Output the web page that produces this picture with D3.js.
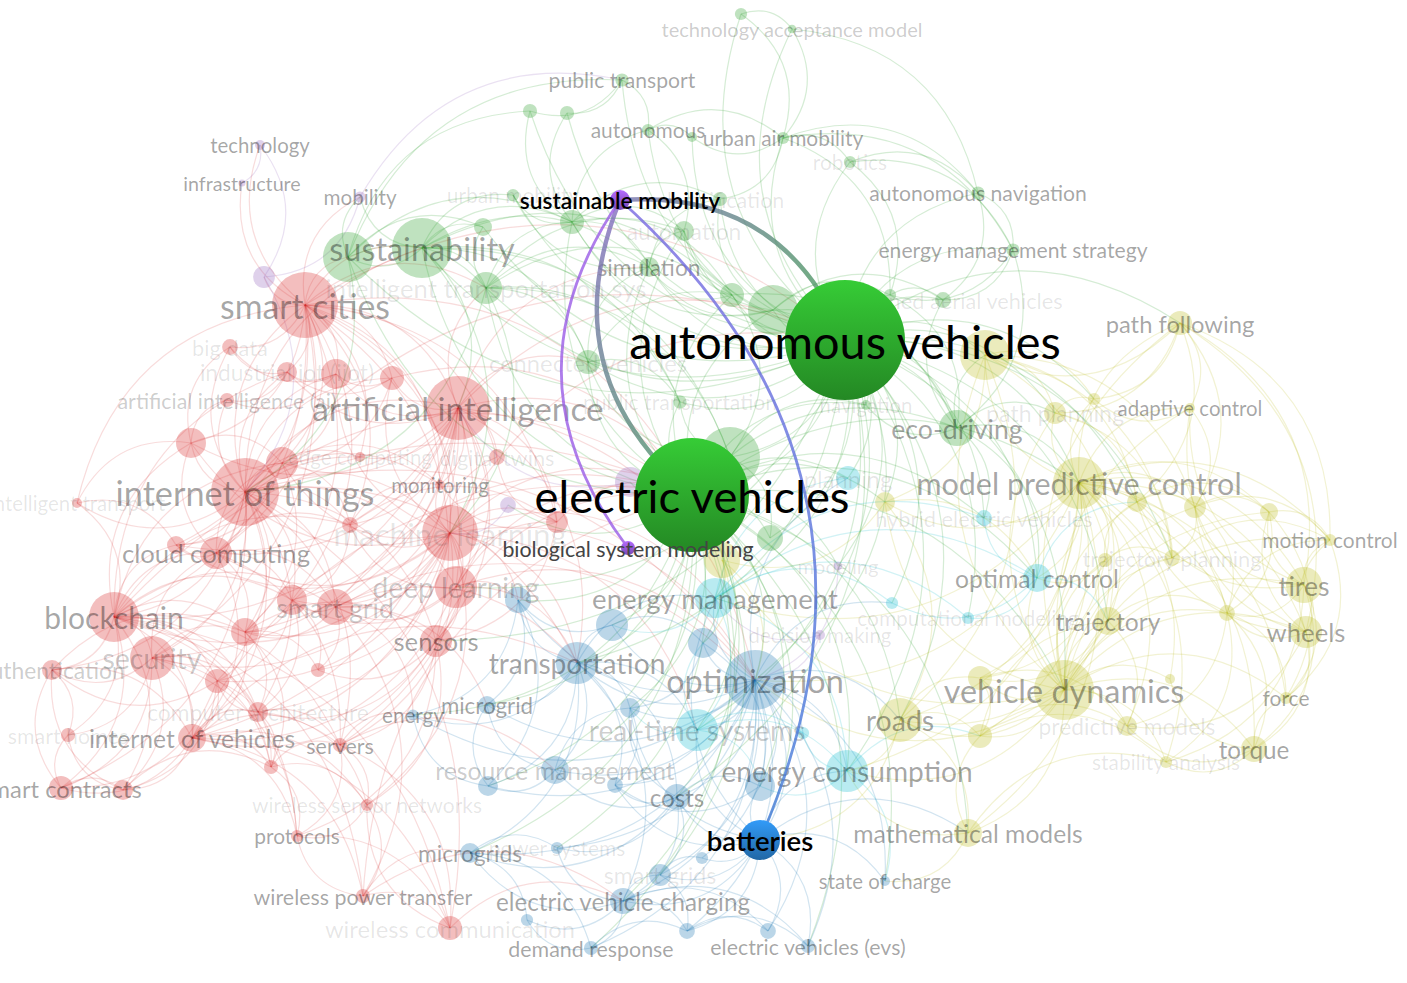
<!DOCTYPE html>
<html>
<head>
<meta charset="utf-8">
<script src="https://cdn.jsdelivr.net/npm/d3@7"></script>
<style>
  html, body { margin: 0; background: #fff; }
  svg { display: block; }
</style>
</head>
<body>
<svg id="map" width="1407" height="983"></svg>
<script>
// ---- Keyword co-occurrence map: items per cluster -------------------------
// [key, label, layout x, layout y, occurrences]
const nodesRed = [
  ["sc", "smart cities", -3.95, 1.85, 174],
  ["iot", "internet of things", -4.55, -0.02, 185],
  ["ai", "artificial intelligence", -2.42, 0.82, 164],
  ["ml", "machine learning", -2.50, -0.43, 125],
  ["bc", "blockchain", -5.86, -1.27, 100],
  ["sec", "security", -5.48, -1.68, 77],
  ["cc", "cloud computing", -4.84, -0.63, 41],
  ["dl", "deep learning", -2.44, -0.97, 71],
  ["sg", "smart grid", -3.65, -1.17, 52],
  ["r1", "", -4.08, -1.10, 36],
  ["sen", "sensors", -2.64, -1.51, 41],
  ["aiai", "artificial intelligence (ai)", -4.73, 0.90, 8],
  ["iiot", "industrial iot (iiot)", -4.13, 1.18, 16],
  ["r2", "", -3.64, 1.16, 36],
  ["bd", "big data", -4.70, 1.43, 10],
  ["r3", "", -3.08, 1.12, 23],
  ["r4", "", -5.09, 0.47, 36],
  ["r5", "", -4.18, 0.27, 41],
  ["ec", "edge computing", -3.40, 0.33, 4],
  ["dt", "digital twins", -2.03, 0.33, 10],
  ["mon", "monitoring", -2.60, 0.05, 4],
  ["r6", "", -3.50, -0.35, 10],
  ["r7", "", -5.24, -0.55, 13],
  ["r8", "", -1.43, -0.32, 19],
  ["r9", "", -4.55, -1.42, 31],
  ["r10", "", -4.83, -1.91, 23],
  ["r11", "", -3.82, -1.80, 8],
  ["ca", "computer architecture", -4.42, -2.22, 16],
  ["auth", "authentication", -6.48, -1.80, 16],
  ["sh", "smart homes", -6.32, -2.45, 8],
  ["scon", "smart contracts", -6.39, -2.98, 23],
  ["r12", "", -5.77, -3.00, 16],
  ["iov", "internet of vehicles", -5.08, -2.48, 31],
  ["r13", "", -4.29, -2.77, 8],
  ["serv", "servers", -3.60, -2.55, 8],
  ["wsn", "wireless sensor networks", -3.33, -3.15, 6],
  ["prot", "protocols", -4.03, -3.46, 6],
  ["wpt", "wireless power transfer", -3.37, -4.06, 8],
  ["wc", "wireless communication", -2.50, -4.38, 23],
  ["itr", "intelligent transport", -6.23, -0.13, 4]
];

const nodesGreen = [
  ["av", "autonomous vehicles", 1.45, 1.50, 576],
  ["ev", "electric vehicles", -0.08, -0.05, 520],
  ["sus", "sustainability", -2.78, 2.42, 144],
  ["g1", "", -3.52, 2.33, 100],
  ["its", "intelligent transportation sys", -2.14, 2.02, 41],
  ["g2", "", -2.17, 2.63, 13],
  ["g3", "", -1.28, 2.68, 23],
  ["g4", "", -1.70, 3.79, 8],
  ["g5", "", -1.33, 3.77, 8],
  ["pt", "public transport", -0.78, 4.10, 7],
  ["g6", "", 0.41, 4.76, 6],
  ["tam", "technology acceptance model", 0.92, 4.61, 3],
  ["auto", "autonomous", -0.52, 3.60, 6],
  ["g7", "", -0.08, 3.53, 4],
  ["uam", "urban air mobility", 0.83, 3.52, 6],
  ["rob", "robotics", 1.50, 3.28, 6],
  ["an", "autonomous navigation", 2.78, 2.97, 7],
  ["ems", "energy management strategy", 3.13, 2.40, 7],
  ["uav", "unmanned aerial vehicles", 2.43, 1.90, 10],
  ["g8", "", 1.90, 1.95, 6],
  ["autom", "automation", -0.16, 2.59, 16],
  ["sim", "simulation", -0.51, 2.23, 16],
  ["um", "urban mobility", -1.87, 2.95, 6],
  ["elec", "electrification", 0.20, 2.91, 8],
  ["g9", "", 0.32, 1.95, 23],
  ["g10", "", 0.73, 1.80, 100],
  ["nav", "navigation", 1.66, 0.85, 4],
  ["ptn", "public transportation", -0.20, 0.88, 7],
  ["cv", "connected vehicles", -1.12, 1.28, 23],
  ["eco", "eco-driving", 2.57, 0.62, 52],
  ["g11", "", 0.30, 0.33, 144],
  ["g12", "", 0.70, -0.48, 27]
];

const nodesBlue = [
  ["opt", "optimization", 0.55, -1.90, 144],
  ["trans", "transportation", -1.23, -1.73, 71],
  ["b1", "", -0.88, -1.35, 41],
  ["b2", "", 0.03, -1.53, 36],
  ["b3", "", -1.82, -1.10, 27],
  ["mg", "microgrid", -2.13, -2.15, 13],
  ["en", "energy", -2.87, -2.25, 5],
  ["rm", "resource management", -1.45, -2.80, 31],
  ["costs", "costs", -0.23, -3.07, 27],
  ["b4", "", 0.60, -2.96, 36],
  ["bat", "batteries", 0.60, -3.50, 64],
  ["b5", "", -0.70, -2.18, 16],
  ["b6", "", -2.12, -2.96, 16],
  ["b7", "", -0.85, -2.95, 10],
  ["mgs", "microgrids", -2.30, -3.63, 16],
  ["ps", "power systems", -1.43, -3.58, 6],
  ["sgs", "smart grids", -0.40, -3.85, 19],
  ["b8", "", 0.02, -3.68, 6],
  ["evc", "electric vehicle charging", -0.77, -4.11, 27],
  ["b9", "", -1.73, -4.30, 6],
  ["dr", "demand response", -1.09, -4.58, 8],
  ["b10", "", -0.13, -4.41, 10],
  ["b11", "", 0.68, -4.41, 10],
  ["evs", "electric vehicles (evs)", 1.08, -4.56, 8],
  ["soc", "state of charge", 1.85, -3.91, 4]
];

const nodesYellow = [
  ["mpc", "model predictive control", 3.79, 0.07, 108],
  ["vd", "vehicle dynamics", 3.64, -2.00, 144],
  ["pf", "path following", 4.80, 1.67, 23],
  ["y1", "", 2.85, 1.35, 100],
  ["ac", "adaptive control", 4.90, 0.82, 4],
  ["pp", "path planning", 3.55, 0.77, 19],
  ["y2", "", 3.94, 0.91, 6],
  ["mc", "motion control", 6.30, -0.50, 6],
  ["tp", "trajectory planning", 4.72, -0.68, 10],
  ["y3", "", 4.05, -0.70, 8],
  ["tir", "tires", 6.04, -0.95, 52],
  ["wh", "wheels", 6.06, -1.42, 41],
  ["traj", "trajectory", 4.08, -1.31, 31],
  ["y4", "", 5.27, -1.23, 10],
  ["y5", "", 4.37, -0.12, 16],
  ["y6", "", 4.95, -0.17, 19],
  ["y7", "", 5.69, -0.22, 13],
  ["y8", "", 1.85, -0.12, 16],
  ["y9", "", 0.22, -0.70, 52],
  ["roads", "roads", 2.00, -2.30, 77],
  ["y10", "", 2.80, -2.46, 23],
  ["y11", "", 2.80, -1.88, 23],
  ["pm", "predictive models", 4.27, -2.36, 16],
  ["y12", "", 4.70, -1.89, 4],
  ["sa", "stability analysis", 4.66, -2.72, 6],
  ["force", "force", 5.86, -2.08, 6],
  ["torq", "torque", 5.54, -2.59, 27],
  ["mm", "mathematical models", 2.68, -3.43, 31]
];

const nodesPurple = [
  ["sm", "sustainable mobility", -0.80, 2.90, 16],
  ["tech", "technology", -4.40, 3.45, 4],
  ["infra", "infrastructure", -4.58, 3.07, 2],
  ["mob", "mobility", -3.40, 2.93, 5],
  ["p1", "", -4.36, 2.13, 19],
  ["bsm", "biological system modeling", -0.72, -0.58, 8],
  ["p2", "", -1.92, -0.15, 10],
  ["p3", "", -0.70, 0.08, 36],
  ["modl", "modeling", 1.38, -0.76, 3],
  ["dm", "decision making", 1.20, -1.45, 4]
];

const nodesCyan = [
  ["em", "energy management", 0.15, -1.08, 64],
  ["rts", "real-time systems", -0.03, -2.40, 71],
  ["ecn", "energy consumption", 1.47, -2.81, 71],
  ["plan", "planning", 1.48, 0.12, 23],
  ["hev", "hybrid electric vehicles", 2.84, -0.28, 10],
  ["oc", "optimal control", 3.37, -0.88, 31],
  ["c1", "", 1.92, -1.13, 6],
  ["cm", "computational modeling", 2.68, -1.28, 6],
  ["c2", "", 1.03, -2.43, 6]
];

// ---- Co-occurrence links: [item, neighbours] ------------------------------
const linksRed = [
  ["iot", "sc ai ml bc sec cc dl sg r1 sen aiai iiot r2 bd r3 r4 r5 ec mon r6 r7 r9 r10 ca auth scon iov serv itr wc ev av sus opt trans"],
  ["sc", "ai ml bc sec cc iiot r2 bd r3 r4 r5 tech infra mob p1 sus g1 its ev av dl sen dt r8 r1 r6 r7 r9 mon ec"],
  ["ai", "ml dl bc sec cc r2 r3 iiot r5 ec dt mon r6 r8 sen ev av its cv sim opt trans serv iov r4 r7 r9 sg r1"],
  ["ml", "dl bc sec cc sg r1 sen r6 r8 r9 mon dt ev av opt em trans b3 rts iov ca r4 r5 r7 r2 r3 r10 r11 wsn serv"],
  ["bc", "sec cc auth scon r12 sh iov r9 r10 r7 sg r1 r4 ca wc wpt prot ev r5 r6 r13 iiot serv"],
  ["sec", "auth scon r12 sh iov cc r9 r10 ca r13 prot"],
  ["cc", "r7 r4 r5 r6 r9 sg r1 iov serv ec"],
  ["dl", "sen r6 r8 sg r1 b3 trans opt ev iov"],
  ["sg", "r1 r9 r11 en mg opt trans ev wpt"],
  ["r1", "r9 r10 r11 ca"],
  ["sen", "r11 ca serv wsn prot iov ev"],
  ["iov", "scon r12 r13 serv ca prot wsn wpt wc ev trans"],
  ["ca", "serv r13 r10 wsn"],
  ["serv", "wsn prot en rm wc"],
  ["wpt", "wc prot mgs evc ev"],
  ["wc", "wsn evc"],
  ["scon", "r12 auth sh"],
  ["itr", "r4 r7 bc sc"],
  ["r3", "r2 iiot r5 ev"],
  ["r4", "r5 aiai bd"],
  ["r9", "r10 r11 r13 iov ca sen"],
  ["r10", "r13 auth scon iov r12"],
  ["r5", "r6 r7 r9 mon"],
  ["r2", "iiot bd r5 aiai"],
  ["r6", "r8 r1 mon"],
  ["r8", "dt mon ev sen"],
  ["r13", "serv prot wsn"],
  ["iiot", "bd aiai"],
  ["wsn", "prot wpt"],
  ["prot", "wc"],
  ["r12", "iov r13 auth sh"],
  ["auth", "sh iov r9"]
];

const linksGreen = [
  ["av", "ev sus g1 its g2 g3 g4 g5 pt g6 tam auto g7 uam rob an ems uav g8 autom sim um elec g9 g10 nav ptn cv eco g11 g12 mpc vd pf y1 pp traj tp roads opt oc em plan hev rts ecn trans costs ai ml sen iot dl y2 y5 y8 c1 cm dm modl"],
  ["ev", "sus g1 its g3 autom sim g9 g10 nav ptn cv eco g11 g12 opt trans b1 b2 b3 mg en rm costs b4 bat b5 b6 mgs ps sgs evc dr evs soc em rts ecn plan hev oc mpc vd roads y8 y9 mm p3 p2 modl"],
  ["sus", "g1 its g2 g3 mob ptn cv g9 sim um g11 sc iot ai ml"],
  ["g1", "its g2 g3 pt g4 mob sc iot"],
  ["its", "g2 g3 g9 cv ptn g11 sim autom ai iot ml"],
  ["g3", "autom sim um g4 g5 auto elec g9"],
  ["pt", "g4 g5 auto"],
  ["g6", "tam uam"],
  ["tam", "uam an"],
  ["auto", "g7 uam autom"],
  ["uam", "rob g7 elec g8 an ems"],
  ["rob", "an ems g8"],
  ["an", "ems uav"],
  ["ems", "uav g8 eco"],
  ["g10", "g9 sim autom nav eco g8 g3 elec uav"],
  ["g9", "autom sim eco g11"],
  ["sim", "autom elec um"],
  ["g8", "uav eco"],
  ["cv", "g9 ptn sim"],
  ["eco", "nav g8 uav mpc pp y1 oc hev"],
  ["g11", "g12 ptn cv nav"]
];

const linksYellow = [
  ["mpc", "vd pf y1 ac pp y2 mc tp y3 tir wh traj y4 y5 y6 y7 y8 roads y10 y11 pm y12 sa force torq mm oc hev ecn em opt"],
  ["vd", "pf y1 ac pp mc tp y3 tir wh traj y4 y5 y6 y7 roads y10 y11 pm y12 sa force torq mm oc ecn opt y9 y8"],
  ["pf", "y1 ac y2 y5 y6 tir wh mc pp"],
  ["y1", "pp y2 y8 traj tp roads y5 y6"],
  ["tir", "wh force torq mc y7 y4 y6 sa pf ac y5"],
  ["wh", "force torq y4 y7 mc pm ac y5 y6"],
  ["traj", "tp y3 y4 pm roads y11"],
  ["roads", "y10 y11 mm ecn bat"],
  ["torq", "force sa pm y12"],
  ["mm", "y10 soc ecn sa"],
  ["y5", "y6 y7 tp"],
  ["ac", "y2 y6"],
  ["y6", "y7 y4 mc tp"],
  ["y7", "mc y4 force"],
  ["pp", "y2 y5 tp"],
  ["y11", "y10 pm"],
  ["tp", "y4 mc"],
  ["y8", "y9 roads oc"],
  ["y9", "opt em b2"],
  ["y10", "pm traj sa"],
  ["y4", "force torq sa pm mc"],
  ["y3", "tp y5 y11 oc"],
  ["mc", "force"]
];

const linksBlue = [
  ["opt", "trans b1 b2 b3 mg en rm costs b4 bat b5 b6 b7 mgs ps sgs b8 evc dr b10 b11 evs soc em rts ecn plan c1 c2 roads"],
  ["trans", "b1 b3 mg en rm costs b5 b6 b7 mgs evc em rts"],
  ["bat", "costs b4 b5 b7 b8 evc b10 b11 evs soc ecn rts em mm sgs"],
  ["costs", "b4 b5 b7 rm evc mgs ps sgs"],
  ["evc", "dr b9 b10 b11 evs mgs sgs ps"],
  ["mgs", "ps b9 dr"],
  ["b1", "b2 b3"],
  ["rm", "b6 b5 mg"],
  ["b2", "b4 b5"],
  ["b3", "mg en b6"],
  ["b5", "b7"],
  ["b4", "b7"],
  ["b6", "en mg"],
  ["dr", "b9 b10"],
  ["b10", "b11 evs"],
  ["sgs", "b8 b10"]
];

const linksCyan = [
  ["em", "b1 b2 rts ecn plan c1 cm hev oc"],
  ["rts", "b2 b4 b5 ecn c2"],
  ["ecn", "b4 c2 soc y10"],
  ["oc", "hev cm c1 y5 traj"]
];

const linksPurple = [
  ["tech", "infra sc p1"],
  ["mob", "p1 pt"],
  ["p1", "sc iot"],
  ["modl", "opt"],
  ["dm", "opt em"],
  ["p2", "ml"],
  ["p3", "ai"]
];

// Selected item and its links: [from, to, strength]
const focusItem = "sm";
const focusLinks = [["sm", "av", 3], ["ev", "sm", 3], ["bsm", "sm", 2], ["sm", "bat", 2]];

// Label visibility groups for the non-selected items
const dimLabels = ["sec", "dl", "sg", "rts", "aiai", "auth", "rm", "tam"];
const faintLabels = ["its", "ml", "cv", "ptn", "nav", "autom", "um", "elec", "rob", "uav", "plan", "hev",
  "cm", "modl", "dm", "pp", "tp", "pm", "sa", "iiot", "bd", "ec", "dt", "ca", "sh", "itr", "wsn", "wc", "ps", "sgs"];

// ---- Drawing ----------------------------------------------------------------
const W = 1407, H = 983;
const clusterColors = ["#d62728", "#2ca02c", "#1f77b4", "#bcbd22", "#9467bd", "#17becf"];
const focusColors = { 1: "#2eae2e", 2: "#2b84d4", 4: "#9a5ce6" };
const FONT = "Lato, 'Open Sans', 'Noto Sans', sans-serif";

const svg = d3.select("#map");
const x = d3.scaleLinear().domain([-7, 7.07]).range([0, W]);
const y = d3.scaleLinear().domain([4.9, -4.93]).range([0, H]);
const radius = d3.scaleSqrt().domain([0, 576]).range([0, 60]);
const fontSize = d3.scaleLinear().domain([0, 60]).range([18, 46.8]);
const linkWidth = d3.scaleLinear().domain([1, 3]).range([1.2, 4.4]);

const nodes = [];
[nodesRed, nodesGreen, nodesBlue, nodesYellow, nodesPurple, nodesCyan].forEach((tbl, ci) =>
  tbl.forEach(([key, label, lx, ly, occ]) =>
    nodes.push({ key, label, cluster: ci, px: x(lx), py: y(ly), r: radius(occ), occ })));
const byKey = new Map(nodes.map(n => [n.key, n]));
const get = k => { const n = byKey.get(k); if (!n) throw new Error("unknown item " + k); return n; };

const focusSet = new Set([focusItem]);
focusLinks.forEach(([a, b]) => { focusSet.add(a); focusSet.add(b); });

const seen = new Set(focusLinks.map(([a, b]) => [a, b].sort().join("|")));
const links = [];
[linksRed, linksGreen, linksYellow, linksBlue, linksCyan, linksPurple].forEach(tbl =>
  tbl.forEach(([s, list]) => list.split(" ").forEach(t => {
    const k = [s, t].sort().join("|");
    if (seen.has(k)) return;
    seen.add(k);
    links.push({ a: get(s), b: get(t), w: 1 });
  })));

function arcPath(a, b) {
  const dx = b.px - a.px, dy = b.py - a.py;
  const p = d3.path();
  p.moveTo(a.px, a.py);
  p.quadraticCurveTo((a.px + b.px) / 2 + dy * 0.36, (a.py + b.py) / 2 - dx * 0.36, b.px, b.py);
  return p.toString();
}

const defs = svg.append("defs");

// background links
svg.append("g").attr("fill", "none")
  .selectAll("path").data(links).join("path")
  .attr("d", d => arcPath(d.a, d.b))
  .attr("stroke", d => clusterColors[d.a.cluster])
  .attr("stroke-opacity", d => d.a.cluster === 0 ? 0.16 : 0.2)
  .attr("stroke-width", d => linkWidth(d.w));

// background items, large first
const bgNodes = nodes.filter(n => !focusSet.has(n.key)).sort((a, b) => b.r - a.r);
svg.append("g").selectAll("circle").data(bgNodes).join("circle")
  .attr("cx", d => d.px).attr("cy", d => d.py).attr("r", d => d.r)
  .attr("fill", d => clusterColors[d.cluster]).attr("fill-opacity", 0.3);

// background labels
const labelAlpha = k => faintLabels.includes(k) ? 0.1 : dimLabels.includes(k) ? 0.21 : 0.36;
svg.append("g").attr("font-family", FONT).attr("text-anchor", "middle")
  .selectAll("text").data(bgNodes.filter(n => n.label)).join("text")
  .attr("x", d => d.px).attr("y", d => d.py)
  .attr("dy", "0.4em")
  .attr("font-size", d => fontSize(d.r))
  .attr("fill", "#000").attr("fill-opacity", d => labelAlpha(d.key))
  .text(d => d.label);

// selected links, coloured from one end to the other
const fLinks = focusLinks.map(([a, b, w], i) => ({ a: get(a), b: get(b), w, id: "flink" + i }));
fLinks.forEach(d => {
  const ca = focusColors[d.a.cluster] || clusterColors[d.a.cluster];
  const cb = focusColors[d.b.cluster] || clusterColors[d.b.cluster];
  const mix = d3.interpolateRgb(ca, cb);
  const g = defs.append("linearGradient").attr("id", d.id)
    .attr("gradientUnits", "userSpaceOnUse")
    .attr("x1", d.a.px).attr("y1", d.a.py).attr("x2", d.b.px).attr("y2", d.b.py);
  g.append("stop").attr("offset", 0).attr("stop-color", mix(0.3));
  g.append("stop").attr("offset", 1).attr("stop-color", mix(0.8));
});
svg.append("g").attr("fill", "none")
  .selectAll("path").data(fLinks).join("path")
  .attr("d", d => arcPath(d.a, d.b))
  .attr("stroke", d => `url(#${d.id})`)
  .attr("stroke-opacity", 0.8)
  .attr("stroke-width", d => linkWidth(d.w))
  .attr("stroke-linecap", "round");

// selected items with shaded fill
const fNodes = nodes.filter(n => focusSet.has(n.key)).sort((a, b) => b.r - a.r);
fNodes.forEach(n => {
  const base = d3.color(focusColors[n.cluster] || clusterColors[n.cluster]);
  const g = defs.append("linearGradient").attr("id", "fill-" + n.key)
    .attr("x1", 0).attr("y1", 0).attr("x2", 0).attr("y2", 1);
  g.append("stop").attr("offset", 0).attr("stop-color", base.brighter(0.45));
  g.append("stop").attr("offset", 1).attr("stop-color", base.darker(0.7));
});
svg.append("g").selectAll("circle").data(fNodes).join("circle")
  .attr("cx", d => d.px).attr("cy", d => d.py).attr("r", d => d.r)
  .attr("fill", d => `url(#fill-${d.key})`);

svg.append("g").attr("font-family", FONT).attr("text-anchor", "middle")
  .selectAll("text").data(fNodes).join("text")
  .attr("x", d => d.px).attr("y", d => d.py)
  .attr("dy", "0.4em")
  .attr("font-size", d => fontSize(d.r))
  .attr("font-weight", d => d.r < 25 && d.key !== "bsm" ? 600 : 400)
  .attr("fill", d => d.key === "bsm" ? "#444" : "#000")
  .text(d => d.label);
</script>
</body>
</html>
